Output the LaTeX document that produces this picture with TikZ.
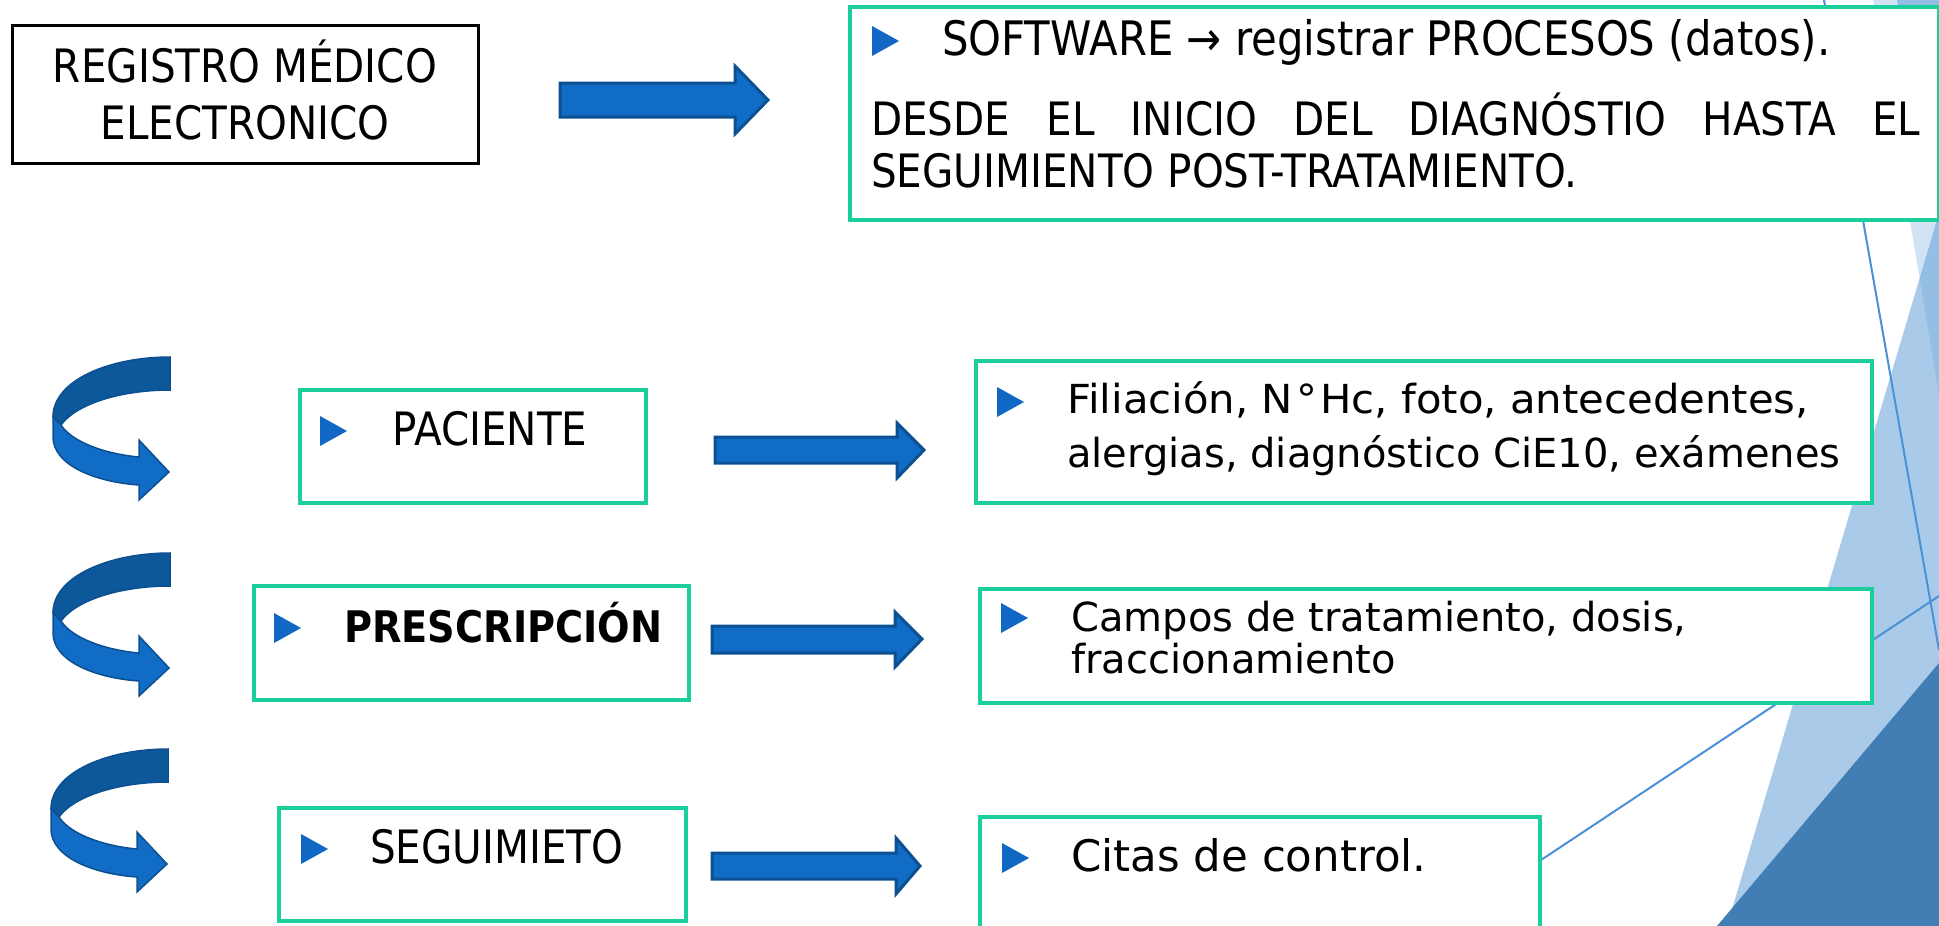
\documentclass[tikz,border=0pt]{standalone}
\usepackage{graphicx}
\usepackage{fontspec}
\setmainfont{DejaVu Sans}
\newfontfamily\capf[FakeStretch=0.88]{DejaVu Sans}
\definecolor{gbord}{RGB}{27,207,157}
\definecolor{arrf}{RGB}{16,108,196}
\definecolor{arrb}{RGB}{12,80,146}
\definecolor{darkband}{RGB}{13,87,155}
\definecolor{bulc}{RGB}{16,104,196}
\definecolor{deco}{RGB}{91,155,213}
\definecolor{decodark}{RGB}{66,125,179}
\definecolor{linec}{RGB}{74,145,214}
\begin{document}
\begin{tikzpicture}[x=1pt,y=-1pt,
  gbox/.style={draw=gbord, line width=4pt, fill=white, inner sep=0pt, anchor=north west},
  kbox/.style={draw=black, line width=3pt, fill=white, inner sep=0pt, anchor=north west},
  blockarr/.style={fill=arrf, draw=arrb, line width=3pt, line join=miter},
  capt/.style={font=\capf\fontsize{46}{50}\selectfont, inner sep=0pt},
  bodyt/.style={font=\fontsize{40}{48}\selectfont, inner sep=0pt, anchor=base west},
  bul/.pic={\fill[bulc] (0,0) -- (27,15) -- (0,30) -- cycle;},
  curv/.pic={
    \path[fill=darkband, draw=arrb, line width=1.5pt] (0,0) .. controls (-60,0) and (-117,23) .. (-117,60) -- (-109,68) .. controls (-92,45) and (-45,33) .. (0,33) -- cycle;
    \path[fill=arrf, draw=arrb, line width=1.5pt] (-117,60) -- (-117,80) .. controls (-117,108) and (-75,125) .. (-31,128) -- (-31,143) -- (-1,115) -- (-31,83) -- (-31,100) .. controls (-65,97) and (-98,85) .. (-109,68) -- cycle;
  }]
\useasboundingbox (0,0) rectangle (1939,926);
\begin{scope}
\clip (0,0) rectangle (1939,926);
% background decoration
\fill[deco, opacity=0.28] (1873,0) -- (1939,0) -- (1939,395) -- cycle;
\fill[deco, opacity=0.52] (1897,0) -- (1939,0) -- (1939,213) -- cycle;
\fill[deco, opacity=0.52] (1939,213) -- (1727,926) -- (1939,926) -- cycle;
\fill[decodark] (1717,926) -- (1939,663) -- (1939,926) -- cycle;
\coordinate (l1a) at (1824,0);
\coordinate (l1b) at (1939,650);
\coordinate (l2a) at (1538,862);
\coordinate (l2b) at (1939,596);
\draw[linec, line width=2pt] (l1a) -- (l1b);
\draw[linec, line width=2pt] (l2a) -- (l2b);

% boxes
\node[kbox, minimum width=466pt, minimum height=138pt] (reg) at (11,24) {};
\node[gbox, minimum width=1089pt, minimum height=213pt] (top) at (848,5) {};
\node[gbox, minimum width=346pt, minimum height=113pt] (pac) at (298,388) {};
\node[gbox, minimum width=435pt, minimum height=114pt] (pre) at (252,584) {};
\node[gbox, minimum width=407pt, minimum height=113pt] (seg) at (277,806) {};
\node[gbox, minimum width=896pt, minimum height=142pt] (fil) at (974,359) {};
\node[gbox, minimum width=892pt, minimum height=114pt] (cam) at (978,587) {};
\node[gbox, minimum width=560pt, minimum height=130pt] (cit) at (978,815) {};

% texts
\node[capt, anchor=base] (regt1) at (245,82) {REGISTRO MÉDICO};
\node[capt, anchor=base] (regt2) at (245,139) {ELECTRONICO};
\node[capt, anchor=base west, font=\capf\fontsize{47.5}{50}\selectfont] (sw) at (942,55) {SOFTWARE → registrar PROCESOS (datos).};
\node[capt, anchor=base west] (desde) at (871,135) {\hbox to 1049pt{DESDE\hfill EL\hfill INICIO\hfill DEL\hfill DIAGNÓSTIO\hfill HASTA\hfill EL}};
\node[capt, anchor=base west] (segpt) at (871,187) {SEGUIMIENTO POST-TRATAMIENTO.};
\node[capt, anchor=base west] (pact) at (392,445) {PACIENTE};
\node[capt, anchor=base west, font=\capf\bfseries\fontsize{43.5}{50}\selectfont] (pret) at (344,642) {PRESCRIPCIÓN};
\node[capt, anchor=base west] (segt) at (370,863) {SEGUIMIETO};
\node[bodyt] (f1) at (1067,413) {\scalebox{1.045}[1]{Filiación, N\kern3pt°\kern3pt Hc, foto, antecedentes,}};
\node[bodyt] (f2) at (1067,467) {alergias, diagnóstico CiE10, exámenes};
\node[bodyt] (c1) at (1071,631) {Campos de tratamiento, dosis,};
\node[bodyt] (c2) at (1071,673) {fraccionamiento};
\node[bodyt, font=\fontsize{43.5}{48}\selectfont] (ct) at (1071,871) {Citas de control.};

% bullets
\pic at (872,26) {bul};
\pic at (320,416) {bul};
\pic at (274,613) {bul};
\pic at (301,834) {bul};
\pic at (997,387) {bul};
\pic at (1001,603) {bul};
\pic at (1002,843) {bul};

% block arrows
\draw[blockarr] (560,83) -- (735,83) -- (735,66) -- (768,100) -- (735,134) -- (735,117) -- (560,117) -- cycle;
\draw[blockarr] (715,437) -- (897,437) -- (897,423) -- (924,450) -- (897,478) -- (897,463) -- (715,463) -- cycle;
\draw[blockarr] (712,626) -- (895,626) -- (895,612) -- (922,639) -- (895,667) -- (895,653) -- (712,653) -- cycle;
\draw[blockarr] (712,853) -- (896,853) -- (896,838) -- (920,866) -- (896,894) -- (896,879) -- (712,879) -- cycle;

% curved arrows
\pic at (170,357) {curv};
\pic at (170,553) {curv};
\pic at (168,749) {curv};
\end{scope}
\end{tikzpicture}
\end{document}
